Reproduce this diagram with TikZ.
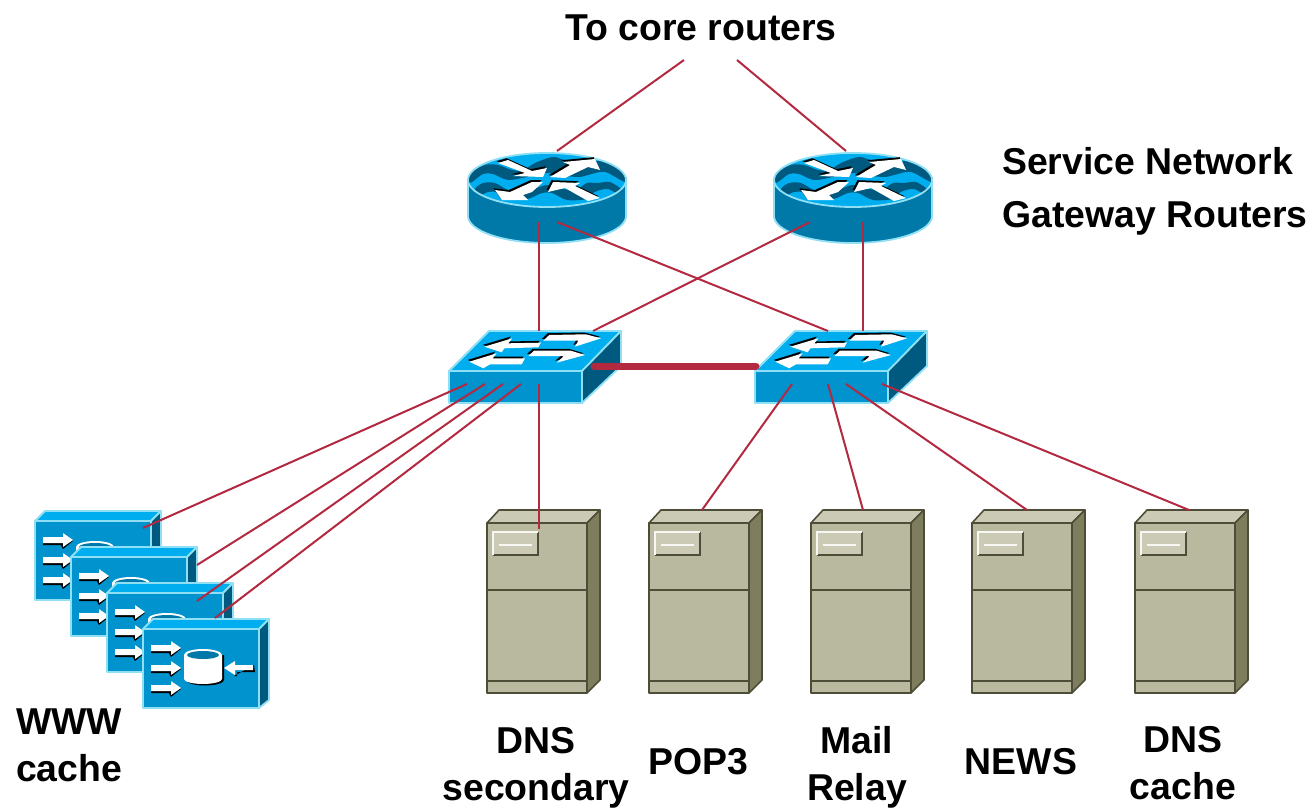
\documentclass[tikz,border=0pt]{standalone}
\usepackage{fontspec}
\setmainfont{Liberation Sans}
\definecolor{linkc}{HTML}{B3293F}
\definecolor{bodyb}{HTML}{0078A8}
\definecolor{faceb}{HTML}{0093CE}
\definecolor{topb}{HTML}{00AEEF}
\definecolor{darkb}{HTML}{005A80}
\definecolor{edgeb}{HTML}{8FE0F5}
\definecolor{srvface}{HTML}{B9B9A0}
\definecolor{srvtop}{HTML}{CBCBB5}
\definecolor{srvside}{HTML}{7E7E5F}
\definecolor{srvedge}{HTML}{4E4E38}
\tikzset{
  link/.style={draw=linkc,line width=2pt},
  trunk/.style={draw=linkc,line width=7pt,line cap=round},
  label/.style={font=\fontsize{37.4}{47}\selectfont\bfseries,align=center,inner sep=0pt,text=black},
  leftlabel/.style={label,align=left},
  anchorbox/.style={inner sep=0pt,outer sep=0pt,minimum width=#1},
  blueedge/.style={draw=edgeb,line width=1.8pt,line join=round},
  srvline/.style={draw=srvedge,line width=1.6pt,line join=round},
}
% router: origin at centre of top ellipse
\newcommand{\routericon}[3]{%
\begin{scope}[shift={(#1,#2)}]
  \node[anchorbox=158pt,minimum height=90pt] (#3) at (0,18) {};
  \path[fill=bodyb,blueedge] (-79,1) -- (-79,37) arc[start angle=180,end angle=0,x radius=79,y radius=27] -- (79,1) -- cycle;
  \path[fill=topb] (0,1) ellipse[x radius=79,y radius=27];
  \fill[darkb] plot[smooth cycle,tension=0.5] coordinates {(-77,-6) (-62,-14) (-49,-14) (-35,-9) (-24,-9) (-12,-16) (1,-21) (8,-22) (18,-19) (35,-17) (48,-18) (61,-16) (78,-4) (78,3) (61,-6) (53,-7) (41,-4) (31,-2) (10,-4) (0,-6) (-20,-2) (-39,1) (-54,-5) (-64,-5) (-77,4)};
  \fill[darkb] plot[smooth cycle,tension=0.5] coordinates {(-72,10) (-64,4) (-52,4) (-39,11) (-24,13) (-10,9) (0,6) (15,10) (30,10) (40,4) (51,4) (63,3) (75,11) (70,14) (61,10) (53,11) (46,14) (40,20) (20,21) (5,14) (-5,14) (-20,20) (-32,16) (-49,13) (-59,13) (-67,16)};
  \path[draw=edgeb,line width=1.8pt] (0,1) ellipse[x radius=79,y radius=27];
  \foreach \dx/\dy/\c in {-1.5/-1.8/black,0/0/white}{
    \begin{scope}[shift={(\dx,\dy)}]
    \fill[\c] (16,-17) -- (48,-20) -- (53,-9) -- (41,-12) -- (18,-1) -- (3,-2) -- (23,-14) -- cycle;
    \fill[\c] (-49,-16) -- (-39,-19) -- (-15,-8) -- (0,-11) -- (-4,-2) -- (-34,-3) -- (-22,-6) -- cycle;
    \fill[\c] (-52,11) -- (-37,13) -- (-15,3) -- (-4,3) -- (-15,13) -- (-24,16) -- (-19,21) -- (-45,21) -- cycle;
    \fill[\c] (6,3) -- (33,4) -- (28,7) -- (53,19) -- (41,22) -- (18,9) -- (1,13) -- cycle;
    \end{scope}
  }
\end{scope}}
% switch: origin at top-left of front face
\newcommand{\switchicon}[3]{%
\begin{scope}[shift={(#1,#2)}]
  \node[anchorbox=172pt,minimum height=72pt] (#3) at (86,-4) {};
  \path[fill=faceb,blueedge] (0,0) rectangle (133,32);
  \path[fill=topb,blueedge] (0,0) -- (40,-40) -- (172,-40) -- (133,0) -- cycle;
  \path[fill=darkb,blueedge] (133,0) -- (172,-40) -- (172,-5) -- (133,32) -- cycle;
  \foreach \dx/\dy/\c in {-1.5/-1.8/black,0/0/white}{
    \begin{scope}[shift={(\dx,\dy)}]
    \fill[\c] (35.3,-24.3) -- (63.3,-32.7) -- (59.3,-27.7) -- (92,-28.3) -- (89.3,-23.7) -- (55.3,-22.7) -- (52.7,-18.7) -- cycle;
    \fill[\c] (152,-32.7) -- (126,-24.3) -- (129.3,-30.3) -- (94.3,-30.3) -- (100.3,-36) -- (136.7,-36.7) -- cycle;
    \fill[\c] (20.3,-9.3) -- (47.7,-17.7) -- (43.7,-12.7) -- (76,-12.7) -- (72.7,-6.7) -- (41,-6.7) -- (34.3,-2.7) -- cycle;
    \fill[\c] (136,-16) -- (107.7,-8.3) -- (115,-15) -- (79.3,-15) -- (85,-20.3) -- (121.7,-20.3) -- cycle;
    \end{scope}
  }
\end{scope}}
% cache: origin at top-left of front face
\newcommand{\rarrowicon}[1]{%
  \fill[black] (8,#1-2) -- (28,#1-2) -- (28,#1-7) -- (38,#1+1) -- (28,#1+9) -- (26,#1+5) -- (8,#1+5) -- cycle;
  \fill[white] (8,#1-3) -- (28,#1-3) -- (28,#1-7) -- (38,#1) -- (28,#1+7) -- (28,#1+3) -- (8,#1+3) -- cycle;}
\newcommand{\cacheicon}[3]{%
\begin{scope}[shift={(#1,#2)}]
  \node[anchorbox=126pt,minimum height=89pt] (#3) at (63,34.5) {};
  \path[fill=faceb,blueedge] (0,0) rectangle (116,79);
  \path[fill=topb,blueedge] (0,0) -- (10,-10) -- (126,-10) -- (116,0) -- cycle;
  \path[fill=darkb,blueedge] (116,0) -- (126,-10) -- (126,71) -- (116,79) -- cycle;
  \rarrowicon{19}\rarrowicon{39}\rarrowicon{59}
  \fill[black] (44,29) -- (81,26) -- (81,51) arc[start angle=0,end angle=180,x radius=19,y radius=5.5] -- cycle;
  \fill[white] (41,26) -- (79,26) -- (79,50) arc[start angle=0,end angle=180,x radius=19,y radius=5] -- cycle;
  \fill[white] (60,26) ellipse[x radius=19,y radius=6];
  \fill[bodyb] (60,26) ellipse[x radius=16,y radius=4];
  \fill[black] (111,36) -- (112,43) -- (94,43) -- (94,47) -- (91,47) -- cycle;
  \fill[white] (81,39) -- (92,32) -- (92,36) -- (110,36) -- (110,41) -- (92,41) -- (92,46) -- cycle;
\end{scope}}
% server: origin at top-left of front face
\newcommand{\servericon}[3]{%
\begin{scope}[shift={(#1,#2)}]
  \node[anchorbox=113pt,minimum height=183pt] (#3) at (56.5,78.5) {};
  \path[fill=srvface,srvline] (0,0) rectangle (100,170);
  \path[fill=srvtop,srvline] (0,0) -- (12,-13) -- (113,-13) -- (100,0) -- cycle;
  \path[fill=srvside,srvline] (100,0) -- (113,-13) -- (113,157) -- (100,170) -- cycle;
  \draw[srvline] (0,67) -- (100,67);
  \draw[srvline] (0,158) -- (100,158);
  \fill[srvtop] (6,9) rectangle (51,32);
  \draw[srvedge,line width=1.2pt] (6,32) -- (51,32) -- (51,9);
  \draw[white!85!srvtop,line width=1.2pt] (6,32) -- (6,9) -- (51,9);
  \draw[white!85!srvtop,line width=1.2pt] (12,22) -- (45,22);
\end{scope}}
\begin{document}
\begin{tikzpicture}[x=1pt,y=-1pt]
\useasboundingbox (0,0) rectangle (1312,808);

\routericon{547}{179}{rone}
\routericon{853}{179}{rtwo}
\switchicon{449}{371}{swone}
\switchicon{755}{371}{swtwo}

\cacheicon{35}{521}{cacheone}
\cacheicon{71}{557}{cachetwo}
\cacheicon{107}{593}{cachethree}
\cacheicon{143}{629}{cachefour}

\servericon{487}{523}{srvdns}
\servericon{649}{523}{srvpop}
\servericon{811}{523}{srvmail}
\servericon{972}{523}{srvnews}
\servericon{1135}{523}{srvcache}

\node[label] (core) at (701,27.5) {To core routers};
\node[leftlabel,anchor=west,font=\fontsize{37.4}{53}\selectfont\bfseries] (gw) at (1002,191) {Service Network\\Gateway Routers};
\node[leftlabel,anchor=west] (www) at (16,745) {WWW\\cache};
\node[label] (ldns) at (536,768) {DNS\\secondary};
\node[label] (lpop) at (698,762) {POP3};
\node[label] (lmail) at (857,767) {Mail\\Relay};
\node[label] (lnews) at (1021,762) {NEWS};
\node[label] (lcache) at (1183,763) {DNS\\cache};

\coordinate (coreL) at (684,60); \coordinate (coreR) at (737,60);
\coordinate (rAt) at (557,151); \coordinate (rBt) at (846,151);
\coordinate (rAb) at (539,222); \coordinate (rAc) at (557,222);
\coordinate (rBc) at (810,222); \coordinate (rBb) at (863,222);
\coordinate (sAt) at (539,331); \coordinate (sAc) at (593,331);
\coordinate (sBc) at (828,331); \coordinate (sBt) at (863,331);
\coordinate (sA1) at (467,384); \coordinate (sA2) at (485,384);
\coordinate (sA3) at (503,384); \coordinate (sA4) at (521,384);
\coordinate (sA5) at (539,384);
\coordinate (sB1) at (792,384); \coordinate (sB2) at (828,384);
\coordinate (sB3) at (846,384); \coordinate (sB4) at (882,384);
\coordinate (c1) at (143,528); \coordinate (c2) at (197,565);
\coordinate (c3) at (197,601); \coordinate (c4) at (215,618);
\coordinate (d1) at (539,529); \coordinate (d2) at (702,510);
\coordinate (d3) at (863,510); \coordinate (d4) at (1027,510);
\coordinate (d5) at (1189,510);
\coordinate (tA) at (594,366); \coordinate (tB) at (756,366);

\draw[link] (coreL) -- (rAt);
\draw[link] (coreR) -- (rBt);
\draw[link] (rAb) -- (sAt);
\draw[link] (rAc) -- (sBc);
\draw[link] (rBc) -- (sAc);
\draw[link] (rBb) -- (sBt);
\draw[trunk] (tA) -- (tB);
\draw[link] (sA1) -- (c1);
\draw[link] (sA2) -- (c2);
\draw[link] (sA3) -- (c3);
\draw[link] (sA4) -- (c4);
\draw[link] (sA5) -- (d1);
\draw[link] (sB1) -- (d2);
\draw[link] (sB2) -- (d3);
\draw[link] (sB3) -- (d4);
\draw[link] (sB4) -- (d5);
\end{tikzpicture}
\end{document}
